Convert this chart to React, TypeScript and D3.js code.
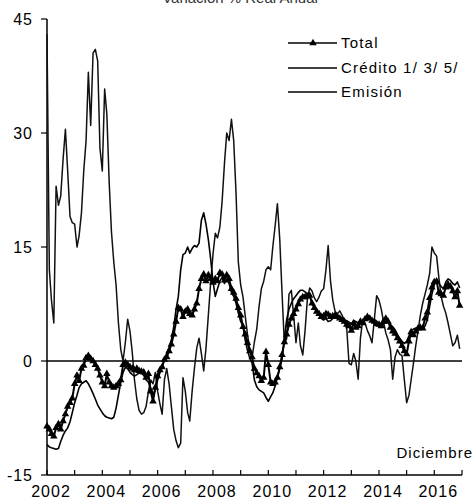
import { useEffect, useRef } from 'react';
import * as d3 from 'd3';

// --- Data (monthly, Jan 2002 - Dec 2016, % real annual change) ---
const startYear = 2002;
const yTicks = [-15, 0, 15, 30, 45];
const yearTicks = d3.range(2002, 2018);
const yearLabels = [2002, 2004, 2006, 2008, 2010, 2012, 2014, 2016];
const seriesNames = ['Total', 'Crédito 1/ 3/ 5/', 'Emisión'];

const totalValues = [
    -8.6, -9, -9.6, -9.9, -8.8, -8.3, -9, -7.9, -7, -6, -5.5, -4.9, // 2002
    -3, -1.9, -2.6, -1, -0.6, 0.4, 0.7, 0.3, 0, -0.5, -1, -1.9, // 2003
    -2.8, -3.3, -1.7, -2.8, -3.3, -3.5, -3.3, -3, -2.5, -0.5, -0.2, -0.5, // 2004
    -0.8, -1, -1.2, -1, -1.3, -1.4, -1.5, -2.2, -1.7, -4, -5.3, -3.5, // 2005
    -2, -1.2, -0.8, 0.2, 0.5, 1.3, 2.2, 3.5, 5.2, 7, 6.8, 5.8, // 2006
    6.5, 6.8, 6.2, 6, 6.8, 7.6, 9.5, 10.8, 11.4, 10.5, 11.3, 10.8, // 2007
    10.3, 10.8, 10.5, 11.6, 11.4, 10.6, 11.3, 10.8, 9.5, 9, 8.2, 7, // 2008
    6, 4.5, 3.5, 2.4, 1.3, 0.5, -1, -1.6, -2, -2.6, -2.2, 1.2, // 2009
    -0.5, -2.8, -3, -2.8, -2.2, -0.8, 0.8, 2.5, 3.5, 4.8, 5.6, 6.2, // 2010
    6.8, 7.5, 8.1, 8.4, 8.4, 8.5, 8.6, 7.6, 7, 6.5, 6.2, 5.8, // 2011
    5.9, 6.2, 6.1, 5.8, 5.9, 6, 5.8, 5.6, 5.4, 5.2, 4.8, 4.6, // 2012
    4, 5, 4.4, 4.6, 5.2, 5, 5.5, 5.8, 5.6, 5.3, 5.2, 4.9, // 2013
    4.8, 4.6, 5.2, 5.6, 5.2, 4.4, 3.9, 3.6, 3, 2.6, 2, 1.3, // 2014
    0.9, 2.6, 3.8, 3.4, 3.9, 4.3, 4.4, 4.3, 5.6, 6.4, 8.3, 9.7, // 2015
    10.4, 10.5, 9, 8.8, 8.6, 9.7, 10.1, 9.8, 9.2, 8.4, 9.2, 7.3 // 2016
];

const creditoValues = [
    -11, -11.3, -11.4, -11.5, -11.6, -11.5, -10.6, -9.8, -9.2, -8.8, -8, -6.8,
    -5.5, -4.5, -3.5, -3, -2.8, -2.6, -3, -3.6, -4.3, -5, -5.8, -6.3,
    -6.8, -7.2, -7.4, -7.5, -7.6, -7.4, -6.2, -4.5, -2.8, -1.5, -0.8, -1,
    -1.5, -1.8, -2, -1.8, -1.6, -1.5, -1.9, -2.5, -2.8, -3.6, -4.5, -3.8,
    -2.5, -1.5, -0.6, 0.2, 1, 1.8, 2.8, 4.5, 6.8, 8.5, 12, 14,
    14.2, 15, 14.2, 14.8, 15.2, 15, 15.5, 18.5, 19.5, 18, 16, 13.5,
    10.5, 8.5, 9.5, 10.5, 11, 10.2, 10.8, 10.2, 9, 8.5, 7.6, 6.3,
    5.2, 4.6, 2.8, 1.4, 0.4, -0.3, -2.5, -3.4, -3.8, -4, -4.2, -4.8,
    -5.3, -4.7, -4.2, -3.3, -2, -1, 0.2, 3, 5.5, 6.8, 7.6, 8.2,
    8.6, 9, 9.3, 9.3, 9.1, 8.8, 8.5, 7.8, 7.2, 6.6, 6.2, 5.6,
    5.4, 5.6, 5.2, 5.3, 5.6, 5.8, 5.6, 5.5, 5.6, 5.4, 5.3, 5.1,
    4.9, 5.3, 5.2, 5, 5.2, 5, 5.4, 5.6, 5.7, 5.5, 5.4, 4.8,
    4.5, 4.4, 4.9, 5.3, 5.3, 4.8, 4.5, 4.1, 3.5, 3, 2.6, 2.3,
    2.6, 3.3, 4, 4.2, 4.3, 4.4, 4.3, 4.2, 4.6, 5.4, 7.2, 8.8,
    10, 10.6, 10.2, 9.8, 9.5, 10.4, 10.8, 10.6, 10.2, 10, 10.4, 9.6
];

const emisionValues = [
    43, 12, 8, 5, 23, 20.5, 21.7, 26.5, 30.5, 25, 19, 18.2,
    18, 15, 16.5, 19.5, 25, 29, 38, 31, 40.5, 41, 39.5, 28,
    25, 35.8, 32.5, 23.5, 17, 13, 10, 5, 1.5, 0, 2.5, 5.5,
    3.9, 1, -2.5, -5, -6.5, -7, -6.8, -6, -4, -2.5, -3, -1.5,
    -4, -5.7, -7, -2.4, -1, -3, -6, -9, -10.5, -11.4, -10.8, -2.2,
    -4, -6.8, -7.9, -4, -1, 1.7, 3, 1, -1.3, 1.7, 6, 10.2,
    14, 16.8, 16.2, 17.6, 21, 26, 30, 29, 31.8, 29, 22, 13,
    10, 8.4, 6, 3.5, 1.5, 0.5, 2.5, 4.2, 7.2, 9.5, 10.5, 12,
    12.4, 12, 15, 17.8, 20.7, 16, 9, 2.2, 3, 8.8, 9.3, 6,
    2.4, 5, 2, 0.8, 4, 8.2, 9.6, 9.2, 8.3, 7.8, 8.4, 9.2,
    9.5, 12, 15.2, 10.5, 8, 6.5, 6.2, 6.6, 6, 5.4, 4.3, -0.3,
    -0.5, 1, 0, -2.4, 3, 5.5, 5, 4, 3.3, 2.4, 5.5, 8.6,
    8, 6.8, 5.2, 3.7, 2.8, 1.5, -2.4, 0.5, 1.5, 0.9, 0.7, -2.4,
    -5.5, -4.5, -2.5, -0.3, 2, 4, 6, 7.6, 8.8, 10, 11.5, 15,
    14.2, 13.8, 11, 8.5, 7.2, 6.3, 5, 3.5, 2, 2.4, 3.4, 1.6
];

const W = 475;
const H = 504;
const FONT = '"Liberation Sans", Arial, sans-serif';

export default function App() {
    const svgRef = useRef<SVGSVGElement>(null);

    useEffect(() => {
        if (!svgRef.current) return;
        const svg = d3.select(svgRef.current);
        svg.selectAll('*').remove();

        const x = d3.scaleTime()
            .domain([new Date(startYear, 0, 1), new Date(2017, 0, 1)])
            .range([47, 462]);
        const y = d3.scaleLinear().domain([-15, 45]).range([475, 19]);
        const dates = totalValues.map((_, i) => new Date(startYear, i, 1));

        // title, cut at the top edge as in the scan
        svg.append('text')
            .attr('x', 240).attr('y', 3)
            .attr('text-anchor', 'middle')
            .attr('font-family', FONT).attr('font-size', 15)
            .attr('fill', '#333')
            .text('Variación % Real Anual');

        // --- axes ---
        const g = svg.append('g').attr('stroke', '#000');
        g.append('line')
            .attr('x1', 47).attr('x2', 47)
            .attr('y1', y(45)).attr('y2', y(-15))
            .attr('stroke-width', 1.5);
        yTicks.forEach(t => {
            g.append('line')
                .attr('x1', 41).attr('x2', 47)
                .attr('y1', y(t)).attr('y2', y(t))
                .attr('stroke-width', 1.2);
        });
        g.append('line')
            .attr('x1', 47).attr('x2', x(new Date(2017, 0, 1)))
            .attr('y1', y(-15)).attr('y2', y(-15))
            .attr('stroke-width', 1.5);
        yearTicks.forEach(yr => {
            const xx = x(new Date(yr, 0, 1));
            g.append('line')
                .attr('x1', xx).attr('x2', xx)
                .attr('y1', y(-15)).attr('y2', y(-15) - 5)
                .attr('stroke-width', 1.2);
        });
        // zero line
        g.append('line')
            .attr('x1', 47).attr('x2', x(new Date(2017, 0, 1)))
            .attr('y1', y(0)).attr('y2', y(0))
            .attr('stroke-width', 1.6);

        svg.append('g')
            .selectAll('text')
            .data(yTicks)
            .join('text')
            .attr('x', 33)
            .attr('y', d => y(d))
            .attr('dy', '0.36em')
            .attr('text-anchor', 'end')
            .attr('font-family', FONT)
            .attr('font-size', 16)
            .attr('letter-spacing', 1)
            .text(d => String(d));

        svg.append('g')
            .selectAll('text')
            .data(yearLabels)
            .join('text')
            .attr('x', d => x(new Date(d, 0, 1)) + 4)
            .attr('y', 497)
            .attr('text-anchor', 'middle')
            .attr('font-family', FONT)
            .attr('font-size', 16)
            .attr('letter-spacing', 1)
            .text(d => String(d));

        // --- series ---
        const line = d3.line<number>()
            .x((_, i) => x(dates[i]))
            .y(d => y(d));

        svg.append('path')
            .attr('d', line(emisionValues))
            .attr('fill', 'none').attr('stroke', '#111')
            .attr('stroke-width', 1.5).attr('stroke-linejoin', 'round');
        svg.append('path')
            .attr('d', line(creditoValues))
            .attr('fill', 'none').attr('stroke', '#000')
            .attr('stroke-width', 1.6).attr('stroke-linejoin', 'round');
        svg.append('path')
            .attr('d', line(totalValues))
            .attr('fill', 'none').attr('stroke', '#000')
            .attr('stroke-width', 2).attr('stroke-linejoin', 'round');

        const tri = d3.symbol().type(d3.symbolTriangle).size(24);
        svg.append('g')
            .selectAll('path')
            .data(totalValues)
            .join('path')
            .attr('transform', (d, i) => `translate(${x(dates[i])},${y(d)})`)
            .attr('d', tri() as string)
            .attr('fill', '#000');

        // --- legend ---
        const legendY = [43, 68, 92];
        const lg = svg.append('g');
        seriesNames.forEach((name, k) => {
            lg.append('line')
                .attr('x1', 288).attr('x2', 337)
                .attr('y1', legendY[k]).attr('y2', legendY[k])
                .attr('stroke', '#000')
                .attr('stroke-width', k === 2 ? 1.3 : 1.7);
            if (k === 0) {
                lg.append('path')
                    .attr('transform', `translate(313,${legendY[k]})`)
                    .attr('d', tri() as string)
                    .attr('fill', '#000');
            }
            lg.append('text')
                .attr('x', 341).attr('y', legendY[k])
                .attr('dy', '0.36em')
                .attr('font-family', FONT)
                .attr('font-size', 15)
                .attr('letter-spacing', 1.2)
                .text(name);
        });

        svg.append('text')
            .attr('x', 473).attr('y', 458)
            .attr('text-anchor', 'end')
            .attr('font-family', FONT)
            .attr('font-size', 15)
            .attr('letter-spacing', 1)
            .text('Diciembre');
    }, []);

    return (
        <div style={{ position: 'absolute', left: 0, top: 0, width: W, height: H, background: '#fff' }}>
            <svg ref={svgRef} width={W} height={H} style={{ display: 'block' }} />
        </div>
    );
}
